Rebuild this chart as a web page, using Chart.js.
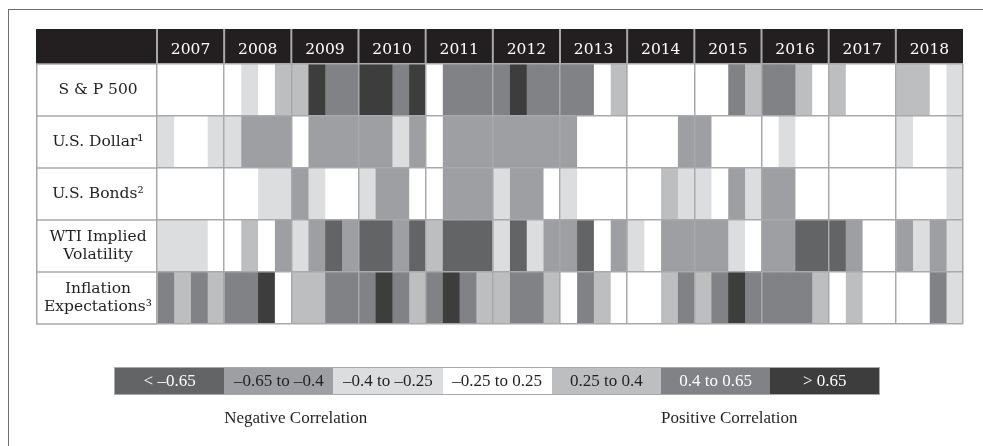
<!DOCTYPE html>
<html>
<head>
<meta charset="utf-8">
<script src="https://cdn.jsdelivr.net/npm/chart.js@4.4.1/dist/chart.umd.min.js"></script>
<style>
    html, body { margin: 0; padding: 0; background: #fff; }
    #wrap { position: relative; width: 983px; height: 446px; overflow: hidden; }
    #frame {
        position: absolute; left: 8px; top: 9px; right: -4px; bottom: -4px;
        border-left: 1.5px solid #6d6e71; border-top: 1.5px solid #6d6e71;
        pointer-events: none;
    }
    #legend { position: absolute; left: 115px; top: 368px; font-family: 'Liberation Serif'; font-size: 17px; }
    #legend .boxes { display: flex; outline: 1.5px solid #a7a9ac; }
    #legend .boxes div { width: 109.2px; height: 26px; line-height: 26px; text-align: center; }
    #legend .notes { display: flex; margin-top: 14px; color: #231f20; }
    #legend .notes div { width: 109.2px; text-align: center; white-space: nowrap; }
</style>
</head>
<body>
<div id="wrap">
    <canvas id="chart" width="983" height="446"></canvas>
    <div id="frame"></div>
    <div id="legend"></div>
</div>
<script>
const ROWS = ['S & P 500', 'U.S. Dollar¹', 'U.S. Bonds²', ['WTI Implied', 'Volatility'], ['Inflation', 'Expectations³']];
const YEARS = ['2007', '2008', '2009', '2010', '2011', '2012', '2013', '2014', '2015', '2016', '2017', '2018'];
const QUARTERS = ['Q1', 'Q2', 'Q3', 'Q4'];

const BINS = ['< –0.65', '–0.65 to –0.4', '–0.4 to –0.25', '–0.25 to 0.25', '0.25 to 0.4', '0.4 to 0.65', '> 0.65'];
const BIN_COLORS = ['#636466', '#9d9fa2', '#dcdddf', '#ffffff', '#bcbec0', '#808285', '#3d3d3d'];
const BIN_TEXT = ['#ffffff', '#231f20', '#231f20', '#231f20', '#231f20', '#ffffff', '#ffffff'];

// Correlation bin (index into BINS) for each quarter, 2007 Q1 .. 2018 Q4
const SP500 = [
    3, 3, 3, 3,  3, 2, 3, 4,  4, 6, 5, 5,  6, 6, 5, 6,
    3, 5, 5, 5,  5, 6, 5, 5,  5, 5, 3, 4,  3, 3, 3, 3,
    3, 3, 5, 4,  5, 5, 4, 3,  4, 3, 3, 3,  4, 4, 3, 2
];
const DOLLAR = [
    2, 3, 3, 2,  2, 1, 1, 1,  3, 1, 1, 1,  1, 1, 2, 1,
    3, 1, 1, 1,  1, 1, 1, 1,  1, 3, 3, 3,  3, 3, 3, 1,
    1, 3, 3, 3,  3, 2, 3, 3,  3, 3, 3, 3,  2, 3, 3, 2
];
const BONDS = [
    3, 3, 3, 3,  3, 3, 2, 2,  1, 2, 3, 3,  2, 1, 1, 3,
    3, 1, 1, 1,  2, 1, 1, 3,  2, 3, 3, 3,  3, 3, 4, 2,
    2, 3, 1, 2,  1, 1, 3, 3,  3, 3, 3, 3,  3, 3, 3, 2
];
const WTI_VOL = [
    2, 2, 2, 3,  3, 4, 3, 1,  2, 1, 0, 1,  0, 0, 1, 0,
    4, 0, 0, 0,  2, 0, 2, 1,  1, 0, 3, 1,  2, 3, 1, 1,
    1, 1, 2, 3,  1, 1, 0, 0,  0, 1, 3, 3,  1, 2, 1, 2
];
const INFLATION = [
    5, 4, 5, 4,  5, 5, 6, 3,  4, 4, 5, 5,  5, 6, 5, 4,
    5, 6, 5, 4,  4, 5, 5, 4,  3, 5, 4, 3,  3, 3, 4, 5,
    4, 5, 6, 5,  5, 5, 5, 4,  3, 4, 3, 3,  3, 3, 5, 2
];

const SERIES = [SP500, DOLLAR, BONDS, WTI_VOL, INFLATION];

const GRID = '#a7a9ac';
const INK = '#231f20';
const TABLE_FONT = { family: 'DejaVu Serif', size: 15.5, lineHeight: 1.12 };

let datasets = [];
for (let q = 0; q < YEARS.length * 4; q++) {
    datasets.push({
        label: YEARS[Math.floor(q / 4)] + ' ' + QUARTERS[q % 4],
        data: SERIES.map(() => 1),
        backgroundColor: SERIES.map(s => BIN_COLORS[s[q]]),
        borderWidth: 0,
        barPercentage: 1,
        categoryPercentage: 1
    });
}

// Black year band above the grid and the frame of the label column
const tableFrame = {
    id: 'tableFrame',
    beforeDraw(chart) {
        let ctx = chart.ctx;
        let area = chart.chartArea;
        let top = chart.scales.xTop;
        let x = chart.scales.x;
        let y = chart.scales.y;

        ctx.save();
        ctx.fillStyle = INK;
        ctx.fillRect(y.left, top.top, area.right - y.left, top.bottom - top.top);

        ctx.strokeStyle = GRID;
        ctx.lineWidth = 2;
        for (let i = 0; i < YEARS.length; i++) {
            let px = x.getPixelForValue(i * 4);
            ctx.beginPath();
            ctx.moveTo(px, top.top);
            ctx.lineTo(px, top.bottom);
            ctx.stroke();
        }
        ctx.restore();
    },
    afterDraw(chart) {
        let ctx = chart.ctx;
        let area = chart.chartArea;
        let y = chart.scales.y;
        let rowH = (area.bottom - area.top) / ROWS.length;

        ctx.save();
        ctx.strokeStyle = GRID;
        ctx.lineWidth = 1.5;
        ctx.beginPath();
        ctx.moveTo(y.left + 0.75, area.top);
        ctx.lineTo(y.left + 0.75, area.bottom + 0.75);
        for (let i = 0; i <= ROWS.length; i++) {
            let py = area.top + i * rowH;
            ctx.moveTo(y.left, py);
            ctx.lineTo(area.left, py);
        }
        ctx.stroke();
        ctx.restore();
    }
};

new Chart(document.getElementById('chart'), {
    type: 'bar',
    plugins: [tableFrame],
    data: {
        labels: ROWS,
        datasets: datasets
    },
    options: {
        indexAxis: 'y',
        responsive: false,
        animation: false,
        devicePixelRatio: 1,
        layout: {
            padding: { left: 36, top: 29, right: 20, bottom: 122 }
        },
        scales: {
            x: {
                type: 'linear',
                stacked: true,
                min: 0,
                max: YEARS.length * 4,
                ticks: { display: false, stepSize: 4 },
                grid: { color: GRID, lineWidth: 1.5, drawTicks: false, z: 1 },
                border: { display: false },
                afterFit: scale => { scale.height = 0; }
            },
            xTop: {
                type: 'category',
                labels: YEARS,
                position: 'top',
                offset: true,
                grid: { display: false },
                border: { display: false },
                ticks: { color: '#ffffff', font: TABLE_FONT, padding: -3, maxRotation: 0, autoSkip: false },
                afterFit: scale => { scale.height = 35; }
            },
            y: {
                type: 'category',
                stacked: true,
                grid: { color: GRID, lineWidth: 1.5, offset: true, drawTicks: false, z: 1 },
                border: { display: false },
                ticks: { color: INK, font: TABLE_FONT, crossAlign: 'center', padding: 5, autoSkip: false },
                afterFit: scale => { scale.width = 121; }
            }
        },
        plugins: {
            legend: { display: false },
            tooltip: { enabled: false }
        }
    }
});

// Colour key under the table
let legend = document.getElementById('legend');
let boxes = document.createElement('div');
boxes.className = 'boxes';
BINS.forEach((bin, idx) => {
    let div = document.createElement('div');
    div.textContent = bin;
    div.style.background = BIN_COLORS[idx];
    div.style.color = BIN_TEXT[idx];
    boxes.appendChild(div);
});
legend.appendChild(boxes);

let notes = document.createElement('div');
notes.className = 'notes';
BINS.forEach((bin, idx) => {
    let div = document.createElement('div');
    div.textContent = idx == 1 ? 'Negative Correlation' : (idx == 5 ? 'Positive Correlation' : '');
    notes.appendChild(div);
});
legend.appendChild(notes);
</script>
</body>
</html>
